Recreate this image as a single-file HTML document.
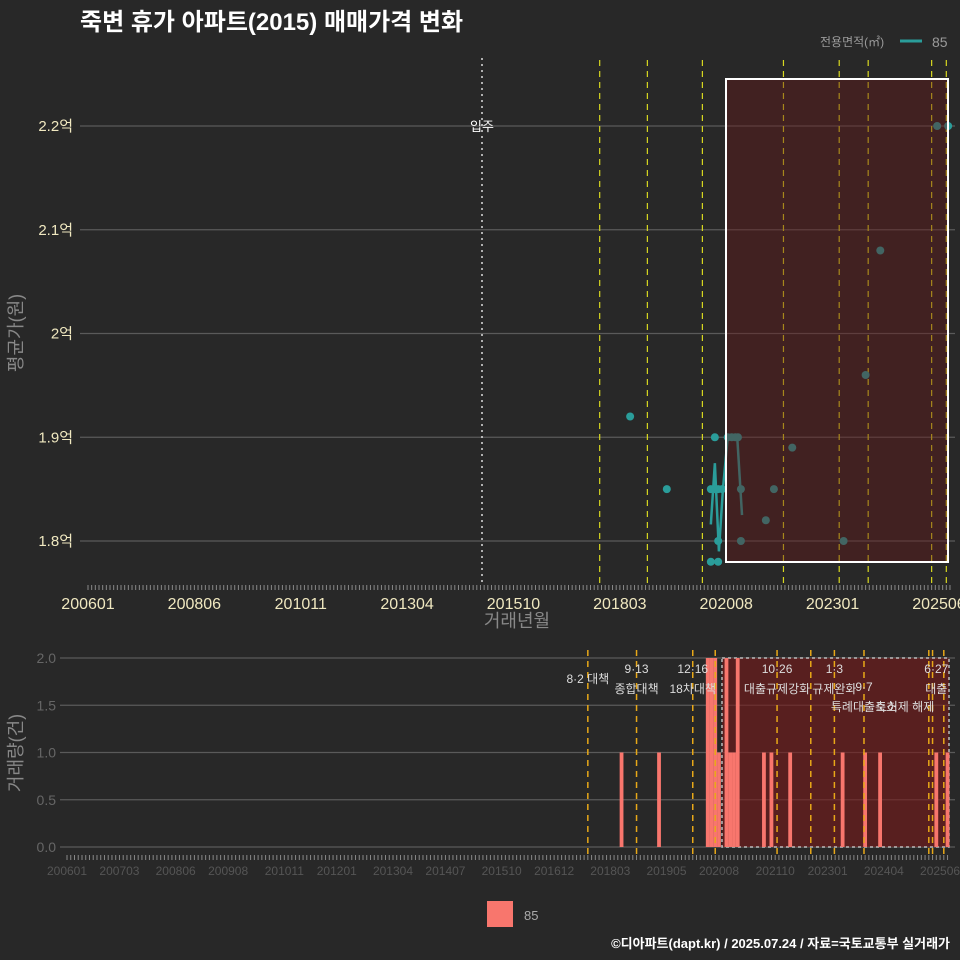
<!DOCTYPE html>
<html><head><meta charset="utf-8">
<style>
html,body{margin:0;padding:0;background:#282828;}
svg{display:block;font-family:"Liberation Sans","Noto Sans CJK KR",sans-serif;}
</style></head>
<body>
<svg id="c" width="960" height="960" viewBox="0 0 960 960">
<rect width="960" height="960" fill="#282828"/>
<text x="80" y="30" fill="#ffffff" font-size="24" font-weight="bold">죽변 휴가 아파트(2015) 매매가격 변화</text>
<g>
<text x="820" y="46" fill="#9a9a9a" font-size="12">전용면적(㎡)</text>
<line x1="900" y1="41" x2="922" y2="41" stroke="#2a9d9a" stroke-width="3"/>
<text x="932" y="47" fill="#9a9a9a" font-size="14">85</text>
</g>
<g id="topg"></g>
<g id="botg"></g>
<g>
<rect x="487" y="901" width="26" height="26" fill="#f8766d"/>
<text x="524" y="920" fill="#aaaaaa" font-size="13">85</text>
</g>
<text x="950" y="948" text-anchor="end" fill="#ffffff" font-size="13" font-weight="bold">©디아파트(dapt.kr) / 2025.07.24 / 자료=국토교통부 실거래가</text>
</svg>
<script>
// months since 2006-01
const dotMonths=[147.8,157.8,169.8,169.8,170.9,170.9,171.8,171.8,171.8,172.9,174.4,175.5,176.5,177.2,178,178,184.8,187,192,206,212,216,231.5,234.5];
const dotPrices=[1.92,1.85,1.85,1.78,1.90,1.85,1.78,1.80,1.85,1.85,1.90,1.90,1.90,1.90,1.85,1.80,1.82,1.85,1.89,1.80,1.96,2.08,2.20,2.20];
const lineMonths=[169.8,170.9,172.0,173.1,174.4,177.0,178.3];
const linePrices=[1.816,1.875,1.79,1.85,1.90,1.90,1.825];
const yTicks=[1.8,1.9,2.0,2.1,2.2];
const yTickLabels=["1.8억","1.9억","2억","2.1억","2.2억"];
const xTickMonths=[0,29,58,87,116,145,174,203,232];
const xTickLabels=["200601","200806","201011","201304","201510","201803","202008","202301","202506"];
const policyMonthsTop=[139.5,152.5,167.5,189.6,204.8,212.7,230,234];
const barMonths=[148,158,171,172,173,174,176,177,178,179,186,188,193,207,213,217,232,235];
const barCounts=[1,1,2,2,2,1,2,1,1,2,1,1,1,1,1,1,1,1];
const countTicks=[0,0.5,1,1.5,2];
const countTickLabels=["0.0","0.5","1.0","1.5","2.0"];
const botTickMonths=[0,14,29,43,58,72,87,101,116,130,145,160,174,189,203,218,233];
const botTickLabels=["200601","200703","200806","200908","201011","201201","201304","201407","201510","201612","201803","201905","202008","202110","202301","202404","202506"];
const policyMonthsBot=[139,152,167,173,189.5,198.5,204.8,212.7,230,231,234];
const eventLabels=[["8·2 대책",""],["9·13","종합대책"],["12·16","18차대책"],["10·26","대출규제강화"],["1·3","규제완화"],["9·7","특례대출축소"],["6·27","대출"]];
const eventMonths=[139,152,167,189.5,204.8,212.7,232];

const NS="http://www.w3.org/2000/svg";
function mk(p,t,a){const e=document.createElementNS(NS,t);for(const k in a)e.setAttribute(k,a[k]);p.appendChild(e);return e;}
const topG=document.getElementById('topg'), botG=document.getElementById('botg');
const xT=m=>88+m*3.668, yT=v=>541-(v-1.8)*1037.5;
const xB=m=>67+m*3.747, yB=v=>847-v*94.5;

yTicks.forEach((v,i)=>{
 const g=mk(topG,'line',{x1:80,x2:955,y1:yT(v),y2:yT(v),stroke:'#5a5a5a','stroke-width':1.2});
 
 
 const t=mk(topG,'text',{x:73,y:yT(v)+5,'text-anchor':'end',fill:'#f0e8c0','font-size':15});
 t.textContent=yTickLabels[i];
 
 
});
for(let m=0;m<=235;m++){mk(topG,'line',{x1:xT(m),x2:xT(m),y1:585,y2:590,stroke:'#888','stroke-width':1});}
xTickMonths.forEach((m,i)=>{
 const t=mk(topG,'text',{x:xT(m),y:609,'text-anchor':'middle',fill:'#f0e8c0','font-size':16});
 t.textContent=xTickLabels[i];
 
 
});
const xa=mk(topG,'text',{x:517,y:627,'text-anchor':'middle',fill:'#888','font-size':18});xa.textContent='거래년월';


const ya=mk(topG,'text',{x:22,y:333,'text-anchor':'middle',fill:'#888','font-size':18,transform:'rotate(-90 22 333)'});ya.textContent='평균가(원)';


const mv=mk(topG,'line',{x1:482,x2:482,y1:58,y2:585,stroke:'#ddd','stroke-dasharray':'2 4','stroke-width':1.5});


const mvt=mk(topG,'text',{x:482,y:131,'text-anchor':'middle',fill:'#fff','font-size':13});mvt.textContent='입주';


policyMonthsTop.forEach(m=>{const l=mk(topG,'line',{x1:xT(m),x2:xT(m),y1:60,y2:585,stroke:'#d8d820','stroke-dasharray':'6 5','stroke-width':1.2});
 
 });
const pline=mk(topG,'polyline',{points:lineMonths.map((m,i)=>xT(m)+','+yT(linePrices[i])).join(' '),fill:'none',stroke:'#2a9d9a','stroke-width':2.5});


dotMonths.forEach((m,i)=>{const c=mk(topG,'circle',{cx:xT(m),cy:yT(dotPrices[i]),r:4,fill:'#2a9d9a'});
 
 });
const sh=mk(topG,'rect',{x:726,y:79,width:222,height:483,fill:'rgba(100,25,25,0.42)',stroke:'#fff','stroke-width':2});



countTicks.forEach((v,i)=>{
 const g=mk(botG,'line',{x1:60,x2:955,y1:yB(v),y2:yB(v),stroke:'#5a5a5a','stroke-width':1.2});
 
 
 const t=mk(botG,'text',{x:56,y:yB(v)+5,'text-anchor':'end',fill:'#666','font-size':14});
 t.textContent=countTickLabels[i];
 
 
});
for(let m=0;m<=235;m++){mk(botG,'line',{x1:xB(m),x2:xB(m),y1:855,y2:860,stroke:'#888','stroke-width':1});}
botTickMonths.forEach((m,i)=>{
 const t=mk(botG,'text',{x:xB(m),y:875,'text-anchor':'middle',fill:'#555','font-size':12});
 t.textContent=botTickLabels[i];
 
 
});
const yb=mk(botG,'text',{x:22,y:753,'text-anchor':'middle',fill:'#888','font-size':18,transform:'rotate(-90 22 753)'});yb.textContent='거래량(건)';


const sb=mk(botG,'rect',{x:722,y:658,width:227,height:189,fill:'rgba(120,25,25,0.6)',stroke:'#bbb','stroke-dasharray':'3 3','stroke-width':1.5});


barMonths.forEach((m,i)=>{const b=mk(botG,'rect',{x:xB(m)-1.9,y:yB(barCounts[i]),width:3.8,height:barCounts[i]*94.5,fill:'#f8766d'});
 
 });
policyMonthsBot.forEach(m=>{const l=mk(botG,'line',{x1:xB(m),x2:xB(m),y1:650,y2:858,stroke:'#e8a818','stroke-dasharray':'6 5','stroke-width':1.5});
 
 });
const clip=mk(botG,'clipPath',{id:'cp'});mk(clip,'rect',{x:0,y:640,width:951,height:80});
const lg=mk(botG,'g',{'clip-path':'url(#cp)'});
eventMonths.forEach((m,i)=>{
 const x=xB(m);
 const [a,b]=eventLabels[i];
 const d=(i==5)?18:0;
 const t1=mk(lg,'text',{x:x,y:(b?673:683)+d,'text-anchor':'middle',fill:'#ddd','font-size':12});t1.textContent=a;
 
 
 if(b){const t2=mk(lg,'text',{x:x,y:693+d,'text-anchor':'middle',fill:'#ddd','font-size':12});t2.textContent=b;
 
 }
});
const tx=mk(lg,'text',{x:905,y:711,'text-anchor':'middle',fill:'#ddd','font-size':12});tx.textContent='토허제 해제';


</script>
</body></html>
